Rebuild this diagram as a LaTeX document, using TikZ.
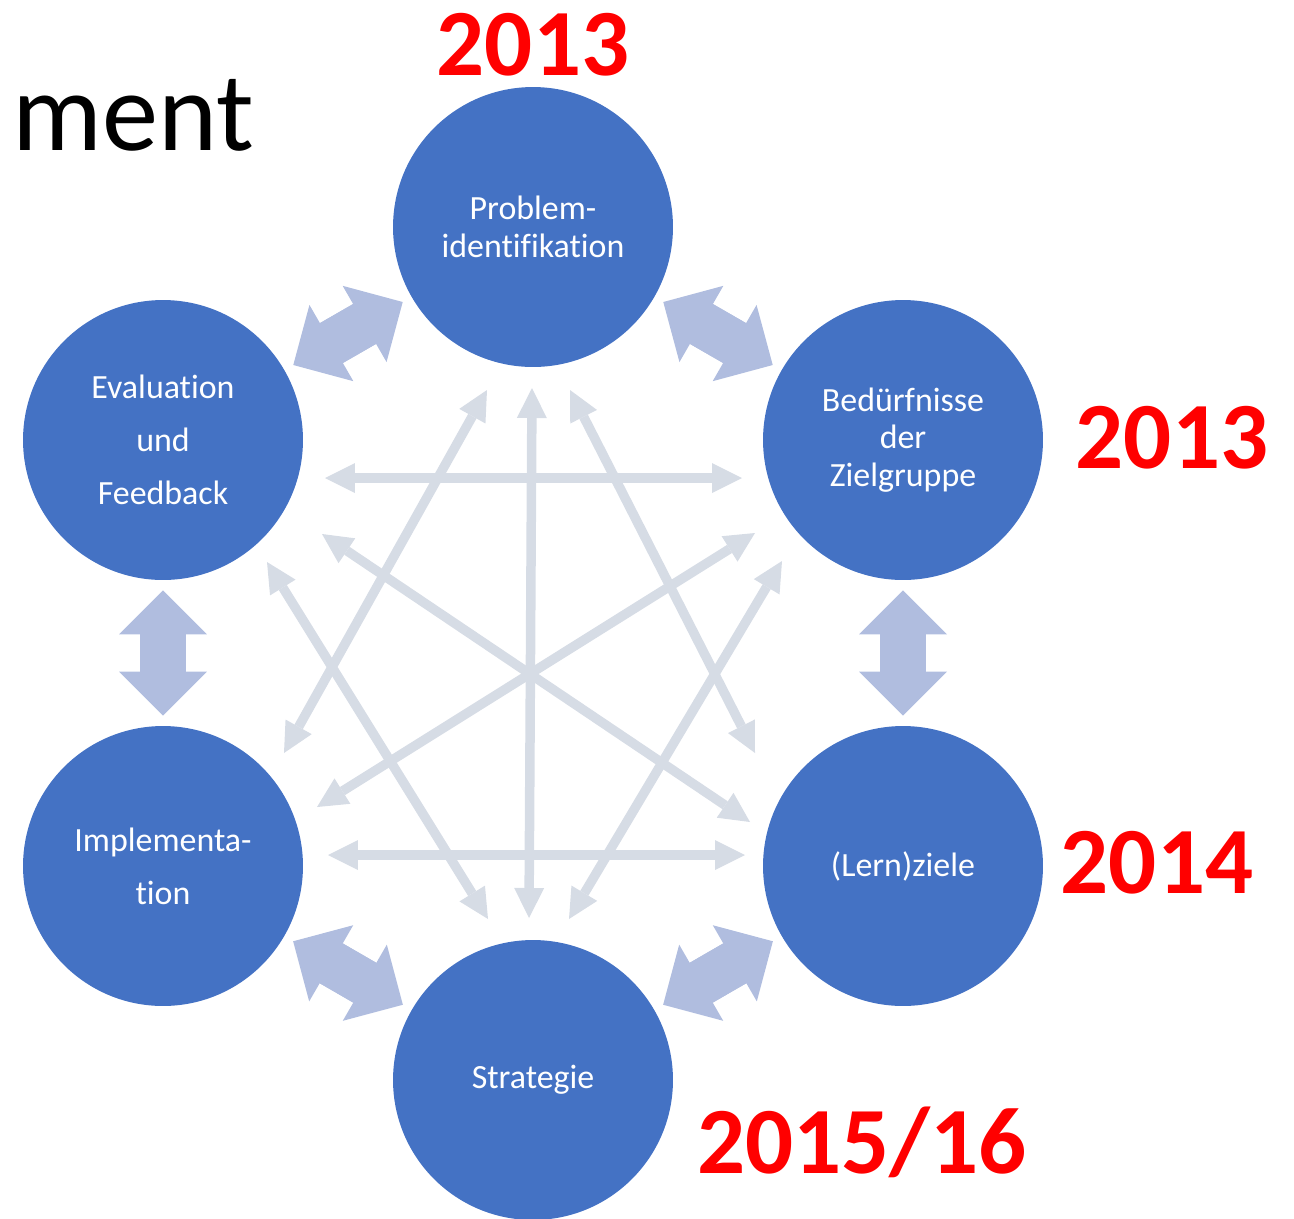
\documentclass[tikz,border=0pt]{standalone}
\usepackage{fontspec}
\setmainfont{Carlito}[Ligatures=NoCommon]
\usetikzlibrary{arrows.meta}

\definecolor{stageblue}{HTML}{4472C4}
\definecolor{bigblue}{HTML}{B0BDDF}
\definecolor{thingray}{HTML}{D6DCE5}

\tikzset{
    stage/.style={circle,fill=stageblue,text=white,minimum size=5.6cm,inner sep=0pt,
        align=center,font=\fontsize{19.3}{21.5}\selectfont},
    widestage/.style={stage,font=\fontsize{19.3}{30}\selectfont},
    bigtip/.tip={Triangle[width=1.76cm,length=0.88cm,line width=0pt]},
    thintip/.tip={Triangle[width=0.6cm,length=0.6cm,line width=0pt]},
    bigarrow/.style={draw=bigblue,line width=0.92cm,shorten >=0.2cm,shorten <=0.2cm,bigtip-bigtip,
        preaction={draw=bigblue,-,line width=0.92cm,shorten >=0.9cm,shorten <=0.9cm}},
    thinarrow/.style={draw=thingray,line width=0.19cm,thintip-thintip},
    year/.style={text=red,anchor=base,inner sep=0pt,font=\fontsize{54}{60}\selectfont\bfseries}
}

\begin{document}
\begin{tikzpicture}[x=0.02cm,y=-0.02cm]

            \useasboundingbox (0,0) rectangle (1294,1218);

            %\draw [help lines,step=100] (0,0) grid (1294,1218);

            \path   (533,227)  node (prob) [stage] {Problem-\\identifikation}
                    (903,440)  node (bed)  [stage] {Bedürfnisse\\der\\Zielgruppe}
                    (903,866)  node (lern) [stage] {(Lern)ziele}
                    (533,1080) node (strat) [stage] {Strategie}
                    (163,866)  node (impl) [widestage] {Implementa-\\tion}
                    (163,440)  node (eval) [widestage] {Evaluation\\und\\Feedback};

            % ends of the thin arrows
            \coordinate (evalbedA) at (325,478);
            \coordinate (evalbedB) at (742,478);
            \coordinate (impllernA) at (328,855);
            \coordinate (impllernB) at (745,855);
            \coordinate (probstratA) at (532,388);
            \coordinate (probstratB) at (529,918);
            \coordinate (probimplA) at (487,390);
            \coordinate (probimplB) at (284,753);
            \coordinate (problernA) at (570,390);
            \coordinate (problernB) at (755,753);
            \coordinate (bedstratA) at (782,561);
            \coordinate (bedstratB) at (569,919);
            \coordinate (evalstratA) at (267,562);
            \coordinate (evalstratB) at (488,919);
            \coordinate (evallernA) at (322,534);
            \coordinate (evallernB) at (750,822);
            \coordinate (bedimplA) at (755,533);
            \coordinate (bedimplB) at (317,807);

            \draw[thinarrow] (evalbedA) -- (evalbedB);
            \draw[thinarrow] (impllernA) -- (impllernB);
            \draw[thinarrow] (probstratA) -- (probstratB);
            \draw[thinarrow] (probimplA) -- (probimplB);
            \draw[thinarrow] (problernA) -- (problernB);
            \draw[thinarrow] (bedstratA) -- (bedstratB);
            \draw[thinarrow] (evalstratA) -- (evalstratB);
            \draw[thinarrow] (evallernA) -- (evallernB);
            \draw[thinarrow] (bedimplA) -- (bedimplB);

            \draw[bigarrow] (prob) -- (bed);
            \draw[bigarrow] (bed) -- (lern);
            \draw[bigarrow] (lern) -- (strat);
            \draw[bigarrow] (strat) -- (impl);
            \draw[bigarrow] (impl) -- (eval);
            \draw[bigarrow] (eval) -- (prob);

            \node (title) [anchor=base west,inner sep=0pt,font=\fontsize{64}{70}\selectfont] at (12,150) {ment};

            \node (yprob)  [year] at (533,75)   {2013};
            \node (ybed)   [year] at (1172,468) {2013};
            \node (ylern)  [year] at (1157,893) {2014};
            \node (ystrat) [year] at (862,1173) {2015/16};

\end{tikzpicture}
\end{document}
